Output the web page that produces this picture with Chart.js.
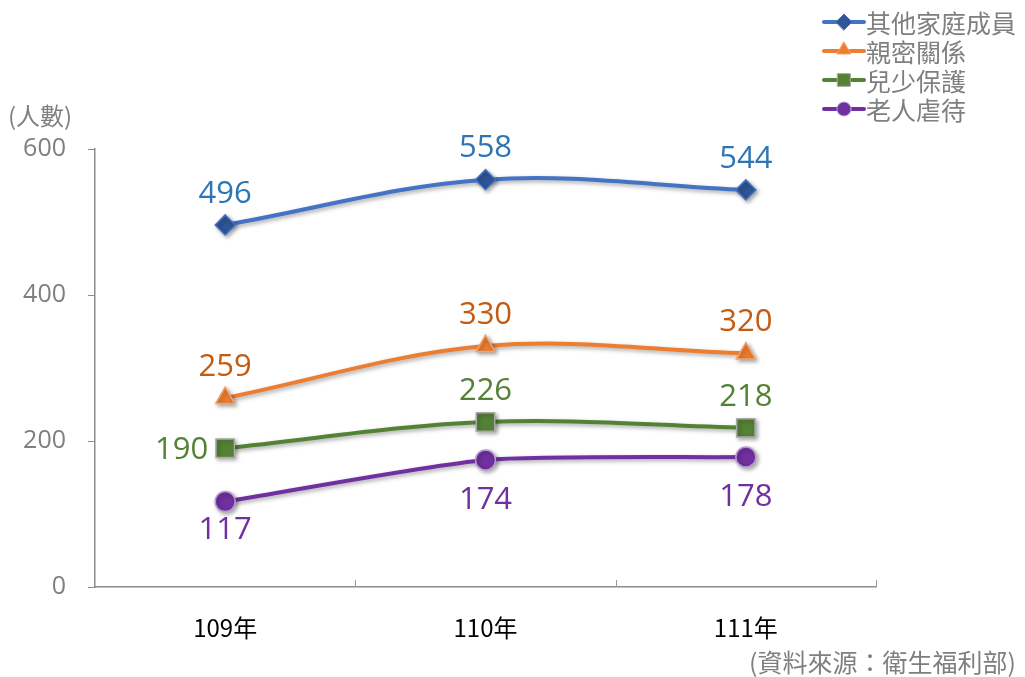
<!DOCTYPE html>
<html>
<head>
<meta charset="utf-8">
<script src="https://cdn.jsdelivr.net/npm/chart.js@4/dist/chart.umd.min.js"></script>
<style>
  body { margin: 0; background: #fff; }
  #wrap { width: 1025px; height: 677px; }
</style>
</head>
<body>
<div id="wrap"><canvas id="chart" width="1025" height="677"></canvas></div>
<script>
// data
const years = ["109年", "110年", "111年"];
const family = [496, 558, 544];
const intimate = [259, 330, 320];
const child = [190, 226, 218];
const elder = [117, 174, 178];
const yTicks = [0, 200, 400, 600];

const FONT = "'Open Sans', 'Noto Sans CJK TC', sans-serif";
const CJK = "'Noto Sans CJK TC', 'Noto Sans', sans-serif";
const GREY = "#7f7f7f";

// where each value label sits relative to its point
const labelPos = {
  0: ["above", "above", "above"],
  1: ["above", "above", "above"],
  2: ["left", "above", "above"],
  3: ["below", "below", "below"],
};

const valueLabels = {
  id: "valueLabels",
  afterDatasetsDraw(chart) {
    const ctx = chart.ctx;
    ctx.save();
    ctx.font = "31px " + FONT;
    ctx.textBaseline = "middle";
    chart.data.datasets.forEach((ds, i) => {
      const meta = chart.getDatasetMeta(i);
      meta.data.forEach((pt, j) => {
        const pos = labelPos[i][j];
        let x = pt.x, y = pt.y;
        ctx.textAlign = "center";
        if (pos === "above") y -= 31;
        else if (pos === "below") y += j === 0 ? 29 : 40;
        else { ctx.textAlign = "right"; x -= 17; y += 2; }
        ctx.fillStyle = ds.labelColor;
        ctx.fillText(ds.data[j], x, y);
      });
    });
    ctx.restore();
  }
};

const extras = {
  id: "extras",
  beforeDatasetsDraw(chart) {
    const ctx = chart.ctx;
    const xs = chart.scales.x;
    const area = chart.chartArea;
    // inward tick marks on the category axis
    ctx.save();
    ctx.strokeStyle = "#9a9a9a";
    ctx.lineWidth = 1;
    const n = chart.data.labels.length;
    for (let i = 1; i <= n; i++) {
      const px = i === n ? area.right
        : (xs.getPixelForValue(i - 1) + xs.getPixelForValue(i)) / 2;
      ctx.beginPath();
      ctx.moveTo(Math.round(px) + 0.5, area.bottom);
      ctx.lineTo(Math.round(px) + 0.5, area.bottom - 7);
      ctx.stroke();
    }
    // unit label
    ctx.fillStyle = GREY;
    ctx.font = "24px " + CJK;
    ctx.textAlign = "left";
    ctx.textBaseline = "middle";
    ctx.fillText("(人數)", 8, 116);
    // source
    ctx.textAlign = "right";
    ctx.font = "25px " + CJK;
    ctx.fillText("(資料來源：衛生福利部)", 1016, 662);
    ctx.restore();
  },
  beforeDatasetDraw(chart) {
    const ctx = chart.ctx;
    ctx.save();
    ctx.shadowColor = "rgba(0,0,0,0.35)";
    ctx.shadowBlur = 4;
    ctx.shadowOffsetX = 2;
    ctx.shadowOffsetY = 2;
  },
  afterDatasetDraw(chart) {
    chart.ctx.restore();
  },
  afterDraw(chart) {
    // legend: line with marker, label to the right
    const ctx = chart.ctx;
    ctx.save();
    chart.data.datasets.forEach((ds, i) => {
      const y = 22 + i * 29;
      ctx.strokeStyle = ds.borderColor;
      ctx.lineWidth = 4;
      ctx.lineCap = "round";
      ctx.beginPath();
      ctx.moveTo(824, y);
      ctx.lineTo(864, y);
      ctx.stroke();
      ctx.fillStyle = ds.pointBackgroundColor;
      ctx.strokeStyle = ds.pointBorderColor;
      ctx.lineWidth = 1;
      Chart.helpers.drawPoint(ctx, {
        pointStyle: ds.pointStyle,
        radius: ds.legendRadius,
        borderWidth: 1,
      }, 844, ds.pointStyle === "triangle" ? y - 1 : y);
      ctx.fillStyle = GREY;
      ctx.font = "25px " + CJK;
      ctx.textAlign = "left";
      ctx.textBaseline = "middle";
      ctx.fillText(ds.label, 866, y + 1);
    });
    ctx.restore();
  }
};

const series = (label, data, line, fill, border, labelColor, style, radius, legendRadius, tension) => ({
  label, data,
  borderColor: line,
  borderWidth: 4,
  tension,
  pointStyle: style,
  pointRadius: radius,
  pointHoverRadius: radius,
  pointBackgroundColor: fill,
  pointBorderColor: border,
  pointBorderWidth: 1.5,
  labelColor,
  legendRadius,
});

new Chart(document.getElementById("chart"), {
  type: "line",
  data: {
    labels: years,
    datasets: [
      series("其他家庭成員", family, "#4472c4", "#2f5597", "#4472c4", "#2e75b6", "rectRot", 10, 8, 0.35),
      series("親密關係", intimate, "#ed7d31", "#ed7d31", "#f4a46a", "#c55a11", "triangle", 11, 8, 0.35),
      series("兒少保護", child, "#548235", "#548235", "#a9a9a9", "#548235", "rect", 13, 9, 0.35),
      series("老人虐待", elder, "#7030a0", "#7030a0", "#b79bd0", "#7030a0", "circle", 10, 7, 0.2),
    ],
  },
  options: {
    responsive: false,
    animation: false,
    layout: { padding: { top: 149, right: 149, left: 0, bottom: 0 } },
    plugins: { legend: { display: false }, tooltip: { enabled: false } },
    scales: {
      x: {
        offset: true,
        grid: { display: false },
        border: { display: true, color: "#8c8c8c", width: 1.5 },
        ticks: { color: "#000", font: { size: 24, family: CJK }, padding: 18 },
        afterFit(s) { s.height = 90; },
      },
      y: {
        min: 0,
        max: 600,
        afterBuildTicks(s) { s.ticks = yTicks.map(v => ({ value: v })); },
        grid: { drawOnChartArea: false, drawTicks: true, tickLength: 7, color: "#8c8c8c", lineWidth: 1 },
        border: { display: true, color: "#8c8c8c", width: 1.5 },
        ticks: { color: GREY, font: { size: 25, family: FONT }, padding: 22 },
        afterFit(s) { s.width = 95; },
      },
    },
  },
  plugins: [extras, valueLabels],
});
</script>
</body>
</html>
